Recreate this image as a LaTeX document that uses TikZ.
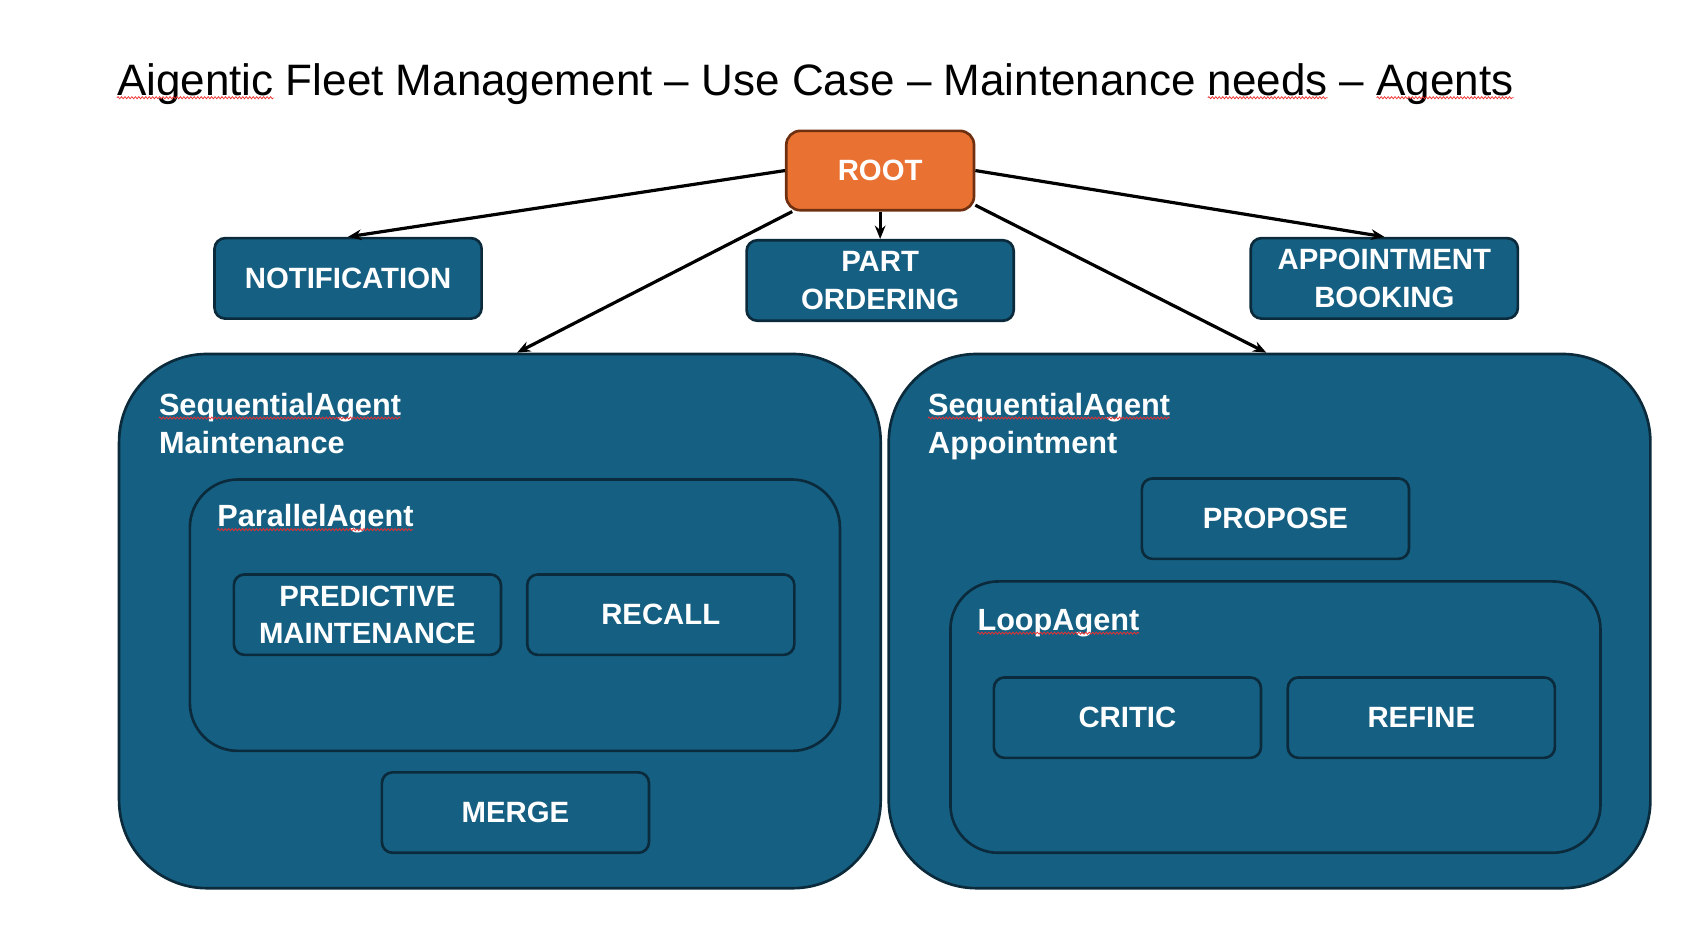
\documentclass[tikz,border=0pt]{standalone}
\usepackage{fontspec}
\setmainfont{Liberation Sans}
\usetikzlibrary{arrows.meta,decorations.pathmorphing,calc}
\definecolor{boxfill}{HTML}{156082}
\definecolor{boxline}{HTML}{0B2B3C}
\definecolor{rootfill}{HTML}{E97132}
\definecolor{rootline}{HTML}{6E3010}
\definecolor{spellred}{HTML}{F03030}
\newcommand\lblfont{\bfseries\fontsize{22}{28}\selectfont}
\newcommand\grpfont{\bfseries\fontsize{23}{28.4}\selectfont}
\newcommand\ttlfont{\fontsize{33}{40}\selectfont}
\newlength\wAig \newlength\wPreNeeds \newlength\wNeeds \newlength\wPreAgents \newlength\wAgents
\newlength\wSeq \newlength\wPar \newlength\wLoop
\begin{document}
\settowidth\wAig{\ttlfont Aigentic}%
\settowidth\wPreNeeds{\ttlfont Aigentic Fleet Management – Use Case – Maintenance }%
\settowidth\wNeeds{\ttlfont needs}%
\settowidth\wPreAgents{\ttlfont Aigentic Fleet Management – Use Case – Maintenance needs – }%
\settowidth\wAgents{\ttlfont Agents}%
\settowidth\wSeq{\grpfont SequentialAgent}%
\settowidth\wPar{\grpfont ParallelAgent}%
\settowidth\wLoop{\grpfont LoopAgent}%
\begin{tikzpicture}[x=0.8045pt,y=-0.8045pt,
  box/.style={draw=boxline, fill=boxfill, line width=2pt, rounded corners=8pt,
    text=white, font=\lblfont, align=center, inner sep=0pt,
    minimum width=249*0.8045pt, minimum height=75*0.8045pt},
  rootbox/.style={box, draw=rootline, fill=rootfill, rounded corners=10.5pt,
    minimum width=175*0.8045pt, minimum height=74*0.8045pt},
  container/.style={draw=boxline, fill=boxfill, line width=2pt, rounded corners=66pt,
    inner sep=0pt, minimum width=710*0.8045pt, minimum height=498*0.8045pt},
  innerbox/.style={draw=boxline, fill=boxfill, line width=2pt, rounded corners=36pt,
    inner sep=0pt, minimum width=606*0.8045pt, minimum height=253*0.8045pt},
  lbl/.style={inner sep=0pt, text=white, font=\grpfont, align=left},
  arr/.style={-{Stealth[length=10pt,width=8pt]}, line width=2.4pt, black},
  squig/.style={spellred, line width=0.55pt, decorate,
    decoration={snake, amplitude=0.8pt, segment length=2.6pt}}]
\useasboundingbox (0,0) rectangle (1568,874.4);

% title
\node[anchor=base west, inner sep=0pt, font=\ttlfont] (title) at (109,88.6)
  {Aigentic Fleet Management – Use Case – Maintenance needs – Agents};
\draw[squig] ($(title.base west)+(0pt,-2pt)$) -- ++(\wAig,0pt);
\draw[squig] ($(title.base west)+(\wPreNeeds,-2pt)$) -- ++(\wNeeds,0pt);
\draw[squig] ($(title.base west)+(\wPreAgents,-2pt)$) -- ++(\wAgents,0pt);

% top row
\node[rootbox] (root) at (820.5,159) {ROOT};
\node[box] (notif) at (324.5,259.5) {NOTIFICATION};
\node[box] (part) at (820.5,261.5) {PART\\ORDERING};
\node[box] (appt) at (1290.5,259.5) {APPOINTMENT\\BOOKING};

% left container
\node[container] (seqm) at (466,579) {};
\node[lbl, anchor=north west] (lsm) at (148,366.5) {SequentialAgent\\Maintenance};
\draw[squig] ($(lsm.north west)+(0pt,-18.7pt)$) -- ++(\wSeq,0pt);
\node[innerbox] (par) at (480,573.5) {};
\node[lbl, anchor=base west] (lpar) at (202.5,491) {ParallelAgent};
\draw[squig] ($(lpar.base west)+(0pt,-2.2pt)$) -- ++(\wPar,0pt);
\node[box] (pred) at (342.5,573) {PREDICTIVE\\MAINTENANCE};
\node[box] (recall) at (616,573) {RECALL};
\node[box] (merge) at (480.5,757.5) {MERGE};

% right container
\node[container] (seqa) at (1183.5,579) {};
\node[lbl, anchor=north west] (lsa) at (865,366.5) {SequentialAgent\\Appointment};
\draw[squig] ($(lsa.north west)+(0pt,-18.7pt)$) -- ++(\wSeq,0pt);
\node[box] (propose) at (1189,483.5) {PROPOSE};
\node[innerbox] (loop) at (1189,668.5) {};
\node[lbl, anchor=base west] (lloop) at (911,587.5) {LoopAgent};
\draw[squig] ($(lloop.base west)+(0pt,-2.2pt)$) -- ++(\wLoop,0pt);
\node[box] (critic) at (1051,669) {CRITIC};
\node[box] (refine) at (1325,669) {REFINE};

% connectors
\draw[arr] (root.west) -- (notif.north);
\draw[arr] (root.south) -- (part.north);
\draw[arr] (root.east) -- (appt.north);
\draw[arr] (root.205) -- ($(seqm.north)+(16,0)$);
\draw[arr] (root.-20) -- ($(seqa.north)+(-3,0)$);
\end{tikzpicture}
\end{document}
